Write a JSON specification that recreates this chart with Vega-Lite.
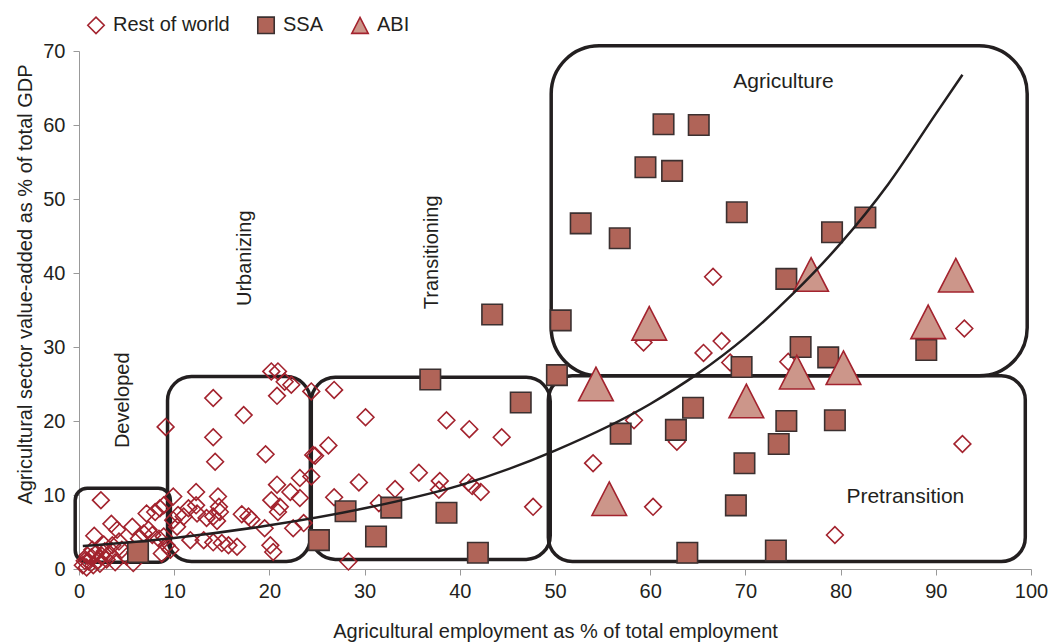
{
  "$schema": "https://vega.github.io/schema/vega-lite/v6.json",
  "autosize": {"type": "none"},
  "width": 952,
  "height": 518,
  "padding": {"left": 79, "top": 51, "right": 20, "bottom": 74},
  "config": {
    "font": "Liberation Sans",
    "view": {"stroke": null},
    "axis": {
      "grid": false,
      "labelFlush": false,
      "domainColor": "#999999",
      "tickColor": "#999999",
      "tickSize": 6,
      "labelFontSize": 20,
      "labelColor": "#231f20",
      "titleFontSize": 20,
      "titleFontWeight": "normal",
      "titleColor": "#231f20",
      "labelPadding": 6
    },
    "legend": {
      "labelFontSize": 20,
      "labelColor": "#231f20",
      "symbolSize": 270,
      "symbolStrokeWidth": 1.6,
      "labelOffset": 7,
      "columnPadding": 24,
      "padding": 0
    }
  },
  "datasets": {
    "boxes": [
      {"box": "Developed", "x": -0.4, "x2": 9.6, "y": 0.9, "y2": 10.9},
      {"box": "Urbanizing", "x": 9.3, "x2": 24.3, "y": 1.0, "y2": 26.0},
      {"box": "Transitioning", "x": 24.4, "x2": 49.5, "y": 1.3, "y2": 25.9},
      {"box": "Pretransition", "x": 49.3, "x2": 99.4, "y": 1.0, "y2": 26.1},
      {"box": "Agriculture", "x": 49.6, "x2": 99.6, "y": 26.1, "y2": 70.7}
    ],
    "curve": [
      {"x": 0.4, "y": 3.1}, {"x": 10, "y": 4.2}, {"x": 20, "y": 5.9}, {"x": 30, "y": 8.2},
      {"x": 40, "y": 11.3}, {"x": 50, "y": 16.0}, {"x": 60, "y": 22.3}, {"x": 65, "y": 26.4},
      {"x": 70, "y": 31.3}, {"x": 75, "y": 37.2}, {"x": 80, "y": 44.0}, {"x": 85, "y": 52.0},
      {"x": 90, "y": 61.5}, {"x": 92.8, "y": 66.8}
    ],
    "labelsH": [
      {"label": "Agriculture", "x": 74.0, "y": 65.8},
      {"label": "Pretransition", "x": 86.8, "y": 9.7}
    ],
    "labelsV": [
      {"label": "Developed", "x": 4.6, "y": 22.8},
      {"label": "Urbanizing", "x": 17.4, "y": 42.0},
      {"label": "Transitioning", "x": 37.1, "y": 42.8}
    ],
    "points": [
      {"group": "Rest of world", "x": 0.4, "y": 0.5},
      {"group": "Rest of world", "x": 0.8, "y": 0.2},
      {"group": "Rest of world", "x": 1.0, "y": 1.0},
      {"group": "Rest of world", "x": 1.3, "y": 1.6},
      {"group": "Rest of world", "x": 1.5, "y": 0.5},
      {"group": "Rest of world", "x": 1.7, "y": 2.0},
      {"group": "Rest of world", "x": 2.0, "y": 1.2},
      {"group": "Rest of world", "x": 2.2, "y": 0.7},
      {"group": "Rest of world", "x": 2.4, "y": 1.8},
      {"group": "Rest of world", "x": 2.7, "y": 2.4},
      {"group": "Rest of world", "x": 2.9, "y": 1.3},
      {"group": "Rest of world", "x": 3.2, "y": 2.1},
      {"group": "Rest of world", "x": 0.9, "y": 1.8},
      {"group": "Rest of world", "x": 0.6, "y": 1.1},
      {"group": "Rest of world", "x": 1.4, "y": 2.6},
      {"group": "Rest of world", "x": 3.5, "y": 3.2},
      {"group": "Rest of world", "x": 4.2, "y": 3.7},
      {"group": "Rest of world", "x": 4.5, "y": 2.6},
      {"group": "Rest of world", "x": 5.0, "y": 1.7},
      {"group": "Rest of world", "x": 5.7, "y": 0.8},
      {"group": "Rest of world", "x": 5.9, "y": 2.3},
      {"group": "Rest of world", "x": 3.8, "y": 0.9},
      {"group": "Rest of world", "x": 2.6, "y": 3.3},
      {"group": "Rest of world", "x": 1.6, "y": 4.5},
      {"group": "Rest of world", "x": 3.4, "y": 6.1},
      {"group": "Rest of world", "x": 4.0, "y": 5.3},
      {"group": "Rest of world", "x": 5.6, "y": 5.7},
      {"group": "Rest of world", "x": 7.1, "y": 7.5},
      {"group": "Rest of world", "x": 8.0, "y": 7.7},
      {"group": "Rest of world", "x": 8.5, "y": 8.2},
      {"group": "Rest of world", "x": 8.9, "y": 8.6},
      {"group": "Rest of world", "x": 6.3, "y": 4.1},
      {"group": "Rest of world", "x": 6.8, "y": 4.8},
      {"group": "Rest of world", "x": 7.3, "y": 5.3},
      {"group": "Rest of world", "x": 7.7, "y": 4.6},
      {"group": "Rest of world", "x": 8.4, "y": 4.1},
      {"group": "Rest of world", "x": 8.9, "y": 4.4},
      {"group": "Rest of world", "x": 9.2, "y": 3.2},
      {"group": "Rest of world", "x": 9.6, "y": 2.6},
      {"group": "Rest of world", "x": 8.7, "y": 2.1},
      {"group": "Rest of world", "x": 2.3, "y": 9.3},
      {"group": "Rest of world", "x": 9.1, "y": 19.2},
      {"group": "Rest of world", "x": 14.1, "y": 23.1},
      {"group": "Rest of world", "x": 17.3, "y": 20.8},
      {"group": "Rest of world", "x": 14.1, "y": 17.8},
      {"group": "Rest of world", "x": 14.3, "y": 14.5},
      {"group": "Rest of world", "x": 19.6, "y": 15.5},
      {"group": "Rest of world", "x": 20.8, "y": 23.4},
      {"group": "Rest of world", "x": 20.2, "y": 26.7},
      {"group": "Rest of world", "x": 20.9, "y": 26.7},
      {"group": "Rest of world", "x": 21.6, "y": 25.3},
      {"group": "Rest of world", "x": 22.3, "y": 24.9},
      {"group": "Rest of world", "x": 24.4, "y": 24.0},
      {"group": "Rest of world", "x": 24.6, "y": 15.4},
      {"group": "Rest of world", "x": 20.8, "y": 11.4},
      {"group": "Rest of world", "x": 23.2, "y": 12.3},
      {"group": "Rest of world", "x": 24.4, "y": 12.5},
      {"group": "Rest of world", "x": 22.2, "y": 10.4},
      {"group": "Rest of world", "x": 23.2, "y": 9.6},
      {"group": "Rest of world", "x": 20.2, "y": 9.3},
      {"group": "Rest of world", "x": 21.1, "y": 8.4},
      {"group": "Rest of world", "x": 20.9, "y": 7.7},
      {"group": "Rest of world", "x": 9.9, "y": 9.8},
      {"group": "Rest of world", "x": 12.3, "y": 10.4},
      {"group": "Rest of world", "x": 14.6, "y": 9.8},
      {"group": "Rest of world", "x": 12.3, "y": 8.6},
      {"group": "Rest of world", "x": 11.5, "y": 8.2},
      {"group": "Rest of world", "x": 14.7, "y": 8.4},
      {"group": "Rest of world", "x": 14.8, "y": 7.7},
      {"group": "Rest of world", "x": 10.4, "y": 7.3},
      {"group": "Rest of world", "x": 11.0, "y": 7.1},
      {"group": "Rest of world", "x": 9.9, "y": 6.6},
      {"group": "Rest of world", "x": 12.4, "y": 7.5},
      {"group": "Rest of world", "x": 13.4, "y": 6.9},
      {"group": "Rest of world", "x": 14.1, "y": 7.1},
      {"group": "Rest of world", "x": 14.5, "y": 6.5},
      {"group": "Rest of world", "x": 17.1, "y": 7.4},
      {"group": "Rest of world", "x": 17.8, "y": 7.1},
      {"group": "Rest of world", "x": 18.1, "y": 6.7},
      {"group": "Rest of world", "x": 10.3, "y": 5.7},
      {"group": "Rest of world", "x": 19.5, "y": 5.5},
      {"group": "Rest of world", "x": 22.5, "y": 5.5},
      {"group": "Rest of world", "x": 23.6, "y": 6.2},
      {"group": "Rest of world", "x": 11.7, "y": 3.9},
      {"group": "Rest of world", "x": 13.1, "y": 3.9},
      {"group": "Rest of world", "x": 14.1, "y": 3.6},
      {"group": "Rest of world", "x": 15.0, "y": 3.5},
      {"group": "Rest of world", "x": 15.7, "y": 3.2},
      {"group": "Rest of world", "x": 16.6, "y": 3.0},
      {"group": "Rest of world", "x": 20.1, "y": 3.2},
      {"group": "Rest of world", "x": 20.4, "y": 2.3},
      {"group": "Rest of world", "x": 24.8, "y": 15.3},
      {"group": "Rest of world", "x": 26.8, "y": 24.2},
      {"group": "Rest of world", "x": 30.1, "y": 20.5},
      {"group": "Rest of world", "x": 38.6, "y": 20.1},
      {"group": "Rest of world", "x": 41.0, "y": 18.9},
      {"group": "Rest of world", "x": 44.4, "y": 17.8},
      {"group": "Rest of world", "x": 26.2, "y": 16.7},
      {"group": "Rest of world", "x": 29.4, "y": 11.7},
      {"group": "Rest of world", "x": 35.7, "y": 13.0},
      {"group": "Rest of world", "x": 37.9, "y": 11.9},
      {"group": "Rest of world", "x": 40.9, "y": 11.7},
      {"group": "Rest of world", "x": 41.3, "y": 11.2},
      {"group": "Rest of world", "x": 42.2, "y": 10.4},
      {"group": "Rest of world", "x": 37.8, "y": 10.7},
      {"group": "Rest of world", "x": 33.2, "y": 10.8},
      {"group": "Rest of world", "x": 26.8, "y": 9.7},
      {"group": "Rest of world", "x": 31.5, "y": 8.9},
      {"group": "Rest of world", "x": 47.7, "y": 8.4},
      {"group": "Rest of world", "x": 28.3, "y": 1.0},
      {"group": "Rest of world", "x": 66.6, "y": 39.5},
      {"group": "Rest of world", "x": 93.0, "y": 32.5},
      {"group": "Rest of world", "x": 59.3, "y": 30.6},
      {"group": "Rest of world", "x": 67.5, "y": 30.8},
      {"group": "Rest of world", "x": 65.6, "y": 29.2},
      {"group": "Rest of world", "x": 68.4, "y": 27.9},
      {"group": "Rest of world", "x": 74.5, "y": 28.0},
      {"group": "Rest of world", "x": 58.3, "y": 20.1},
      {"group": "Rest of world", "x": 54.0, "y": 14.3},
      {"group": "Rest of world", "x": 62.8, "y": 17.2},
      {"group": "Rest of world", "x": 92.8, "y": 16.9},
      {"group": "Rest of world", "x": 60.3, "y": 8.4},
      {"group": "Rest of world", "x": 79.4, "y": 4.6},
      {"group": "SSA", "x": 61.4, "y": 60.1},
      {"group": "SSA", "x": 65.1, "y": 60.0},
      {"group": "SSA", "x": 59.5, "y": 54.3},
      {"group": "SSA", "x": 62.3, "y": 53.8},
      {"group": "SSA", "x": 69.1, "y": 48.2},
      {"group": "SSA", "x": 52.7, "y": 46.7},
      {"group": "SSA", "x": 56.8, "y": 44.7},
      {"group": "SSA", "x": 79.1, "y": 45.5},
      {"group": "SSA", "x": 82.6, "y": 47.5},
      {"group": "SSA", "x": 74.3, "y": 39.2},
      {"group": "SSA", "x": 50.6, "y": 33.6},
      {"group": "SSA", "x": 89.0, "y": 29.6},
      {"group": "SSA", "x": 75.8, "y": 30.0},
      {"group": "SSA", "x": 78.7, "y": 28.6},
      {"group": "SSA", "x": 69.6, "y": 27.3},
      {"group": "SSA", "x": 50.2, "y": 26.2},
      {"group": "SSA", "x": 64.5, "y": 21.8},
      {"group": "SSA", "x": 62.7, "y": 18.8},
      {"group": "SSA", "x": 56.9, "y": 18.3},
      {"group": "SSA", "x": 74.3, "y": 20.0},
      {"group": "SSA", "x": 79.4, "y": 20.1},
      {"group": "SSA", "x": 73.5, "y": 16.9},
      {"group": "SSA", "x": 69.9, "y": 14.3},
      {"group": "SSA", "x": 69.0, "y": 8.6},
      {"group": "SSA", "x": 63.9, "y": 2.2},
      {"group": "SSA", "x": 73.2, "y": 2.5},
      {"group": "SSA", "x": 43.4, "y": 34.4},
      {"group": "SSA", "x": 36.9, "y": 25.6},
      {"group": "SSA", "x": 46.4, "y": 22.5},
      {"group": "SSA", "x": 28.0, "y": 7.8},
      {"group": "SSA", "x": 32.8, "y": 8.3},
      {"group": "SSA", "x": 38.6, "y": 7.6},
      {"group": "SSA", "x": 31.2, "y": 4.4},
      {"group": "SSA", "x": 25.2, "y": 3.9},
      {"group": "SSA", "x": 41.9, "y": 2.2},
      {"group": "SSA", "x": 6.2, "y": 2.3},
      {"group": "ABI", "x": 76.9, "y": 39.8},
      {"group": "ABI", "x": 92.1, "y": 39.7},
      {"group": "ABI", "x": 89.2, "y": 33.4},
      {"group": "ABI", "x": 59.9, "y": 33.2},
      {"group": "ABI", "x": 54.3, "y": 25.0},
      {"group": "ABI", "x": 75.4, "y": 26.6},
      {"group": "ABI", "x": 80.3, "y": 27.2},
      {"group": "ABI", "x": 70.1, "y": 22.7},
      {"group": "ABI", "x": 55.7, "y": 9.5}
    ]
  },
  "encoding": {
    "x": {
      "field": "x", "type": "quantitative",
      "scale": {"domain": [0, 100], "nice": false, "zero": false},
      "axis": {"values": [0, 10, 20, 30, 40, 50, 60, 70, 80, 90, 100], "title": "Agricultural employment as % of total employment", "titlePadding": 20}
    },
    "y": {
      "field": "y", "type": "quantitative",
      "scale": {"domain": [0, 70], "nice": false, "zero": false},
      "axis": {"values": [0, 10, 20, 30, 40, 50, 60, 70], "title": "Agricultural sector value-added as %  of total GDP", "titlePadding": 7, "labelPadding": 8, "titleY": 233}
    }
  },
  "layer": [
    {
      "data": {"name": "boxes"},
      "transform": [{"filter": "datum.box === 'Agriculture'"}],
      "mark": {"type": "rect", "fillOpacity": 0, "stroke": "#231f20", "strokeWidth": 3.5, "cornerRadius": 48},
      "encoding": {"x2": {"field": "x2"}, "y2": {"field": "y2"}}
    },
    {
      "data": {"name": "boxes"},
      "transform": [{"filter": "datum.box === 'Pretransition' || datum.box === 'Transitioning' || datum.box === 'Urbanizing'"}],
      "mark": {"type": "rect", "fillOpacity": 0, "stroke": "#231f20", "strokeWidth": 3.5, "cornerRadius": 24},
      "encoding": {"x2": {"field": "x2"}, "y2": {"field": "y2"}}
    },
    {
      "data": {"name": "boxes"},
      "transform": [{"filter": "datum.box === 'Developed'"}],
      "mark": {"type": "rect", "fillOpacity": 0, "stroke": "#231f20", "strokeWidth": 3.5, "cornerRadius": 12},
      "encoding": {"x2": {"field": "x2"}, "y2": {"field": "y2"}}
    },
    {
      "data": {"name": "points"},
      "transform": [{"filter": "datum.group === 'Rest of world'"}],
      "mark": {"type": "point", "filled": true, "strokeWidth": 1.6, "opacity": 1, "size": 280},
      "encoding": {
        "shape": {"field": "group", "type": "nominal", "scale": {"domain": ["Rest of world", "SSA", "ABI"], "range": ["diamond", "square", "M0,-0.97L1,0.97L-1,0.97Z"]}, "legend": {"title": null, "orient": "none", "legendX": 7, "legendY": -36, "direction": "horizontal"}},
        "fill": {"field": "group", "type": "nominal", "scale": {"domain": ["Rest of world", "SSA", "ABI"], "range": ["transparent", "#b06458", "#cc968a"]}, "legend": {"title": null, "orient": "none", "legendX": 7, "legendY": -36, "direction": "horizontal"}},
        "stroke": {"field": "group", "type": "nominal", "scale": {"domain": ["Rest of world", "SSA", "ABI"], "range": ["#a3232e", "#3b3030", "#a3232e"]}, "legend": {"title": null, "orient": "none", "legendX": 7, "legendY": -36, "direction": "horizontal"}}
      }
    },
    {
      "data": {"name": "points"},
      "transform": [{"filter": "datum.group === 'SSA'"}],
      "mark": {"type": "point", "filled": true, "strokeWidth": 1.6, "opacity": 1, "size": 420},
      "encoding": {
        "shape": {"field": "group", "type": "nominal", "scale": {"domain": ["Rest of world", "SSA", "ABI"], "range": ["diamond", "square", "M0,-0.97L1,0.97L-1,0.97Z"]}, "legend": {"title": null, "orient": "none", "legendX": 7, "legendY": -36, "direction": "horizontal"}},
        "fill": {"field": "group", "type": "nominal", "scale": {"domain": ["Rest of world", "SSA", "ABI"], "range": ["transparent", "#b06458", "#cc968a"]}, "legend": {"title": null, "orient": "none", "legendX": 7, "legendY": -36, "direction": "horizontal"}},
        "stroke": {"field": "group", "type": "nominal", "scale": {"domain": ["Rest of world", "SSA", "ABI"], "range": ["#a3232e", "#3b3030", "#a3232e"]}, "legend": {"title": null, "orient": "none", "legendX": 7, "legendY": -36, "direction": "horizontal"}}
      }
    },
    {
      "data": {"name": "points"},
      "transform": [{"filter": "datum.group === 'ABI'"}],
      "mark": {"type": "point", "filled": true, "strokeWidth": 1.6, "opacity": 1, "size": 1200},
      "encoding": {
        "shape": {"field": "group", "type": "nominal", "scale": {"domain": ["Rest of world", "SSA", "ABI"], "range": ["diamond", "square", "M0,-0.97L1,0.97L-1,0.97Z"]}, "legend": {"title": null, "orient": "none", "legendX": 7, "legendY": -36, "direction": "horizontal"}},
        "fill": {"field": "group", "type": "nominal", "scale": {"domain": ["Rest of world", "SSA", "ABI"], "range": ["transparent", "#b06458", "#cc968a"]}, "legend": {"title": null, "orient": "none", "legendX": 7, "legendY": -36, "direction": "horizontal"}},
        "stroke": {"field": "group", "type": "nominal", "scale": {"domain": ["Rest of world", "SSA", "ABI"], "range": ["#a3232e", "#3b3030", "#a3232e"]}, "legend": {"title": null, "orient": "none", "legendX": 7, "legendY": -36, "direction": "horizontal"}}
      }
    },
    {
      "data": {"name": "curve"},
      "mark": {"type": "line", "color": "#231f20", "strokeWidth": 2.5, "interpolate": "monotone"},
      "encoding": {}
    },
    {
      "data": {"name": "labelsH"},
      "mark": {"type": "text", "fontSize": 21, "color": "#231f20", "align": "center", "baseline": "middle"},
      "encoding": {"text": {"field": "label"}}
    },
    {
      "data": {"name": "labelsV"},
      "mark": {"type": "text", "fontSize": 20, "color": "#231f20", "align": "center", "baseline": "middle", "angle": 270},
      "encoding": {"text": {"field": "label"}}
    }
  ]
}
